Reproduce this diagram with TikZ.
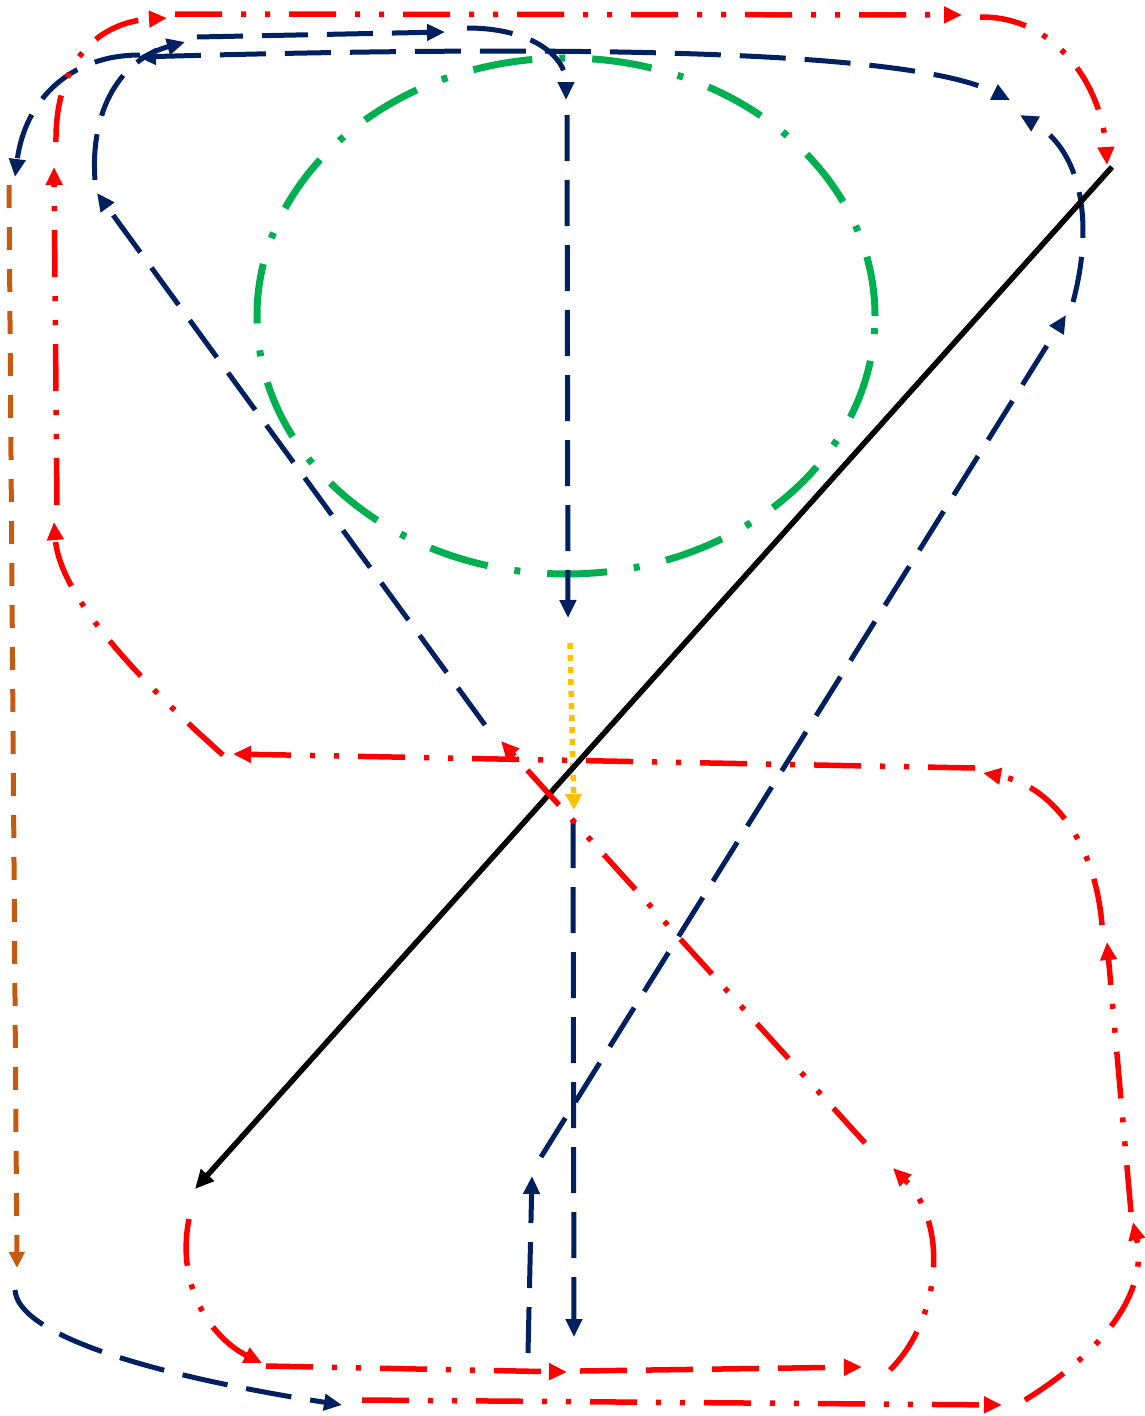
\documentclass[tikz,border=0pt]{standalone}
\usetikzlibrary{arrows.meta,shapes.geometric}
\definecolor{navy}{HTML}{002060}
\definecolor{myred}{HTML}{FF0000}
\definecolor{mygreen}{HTML}{00B050}
\definecolor{myorange}{HTML}{C55A11}
\definecolor{myyellow}{HTML}{FFC000}
\tikzset{
  tipn/.tip={Triangle[length=18pt,width=16pt]},
  navyline/.style={draw=navy, line width=5pt, dash pattern=on 46pt off 19pt, -tipn},
  navyboth/.style={draw=navy, line width=5pt, dash pattern=on 46pt off 19pt, tipn-tipn},
  redline/.style={draw=myred, line width=5.5pt, dash pattern=on 47pt off 19pt on 5pt off 19pt on 5pt off 19pt, -tipn},
  reddash/.style={draw=myred, line width=5.5pt, dash pattern=on 47pt off 19pt, -tipn},
  blackline/.style={draw=black, line width=5.5pt, -{Triangle[length=19pt,width=17pt]}},
  orangeline/.style={draw=myorange, line width=5pt, dash pattern=on 23pt off 19pt, -{Triangle[length=16pt,width=15pt]}},
  yellowline/.style={draw=myyellow, line width=5.5pt, dash pattern=on 6pt off 6pt, -{Triangle[length=16pt,width=16pt]}},
  greenring/.style={ellipse, draw=mygreen, line width=7pt, dash pattern=on 60pt off 27pt on 6pt off 27pt, inner sep=0pt},
}
\begin{document}
\begin{tikzpicture}[x=1pt,y=-1pt]
\useasboundingbox[fill=white] (0,0) rectangle (1144,1416);
% green ring
\node[greenring, minimum width=618pt, minimum height=516pt] (ring) at (566,316) {};
% endpoints
\coordinate (n8s) at (485,725);   \coordinate (n8e) at (97,193);
\coordinate (n1s) at (95,180);    \coordinate (n1e) at (185,42);
\coordinate (n2s) at (197,37);    \coordinate (n2e) at (445,32);
\coordinate (n3s) at (467,28);    \coordinate (n3e) at (566,100);
\coordinate (n4s) at (567,115);   \coordinate (n4e) at (568,618);
\coordinate (n5a) at (138,57);    \coordinate (n5b) at (1010,100);
\coordinate (n6s) at (1073,302);  \coordinate (n6e) at (1020,115);
\coordinate (n7s) at (541,1157);  \coordinate (n7e) at (1066,315);
\coordinate (n9s) at (140,55);    \coordinate (n9e) at (15,177);
\coordinate (n10s) at (573,822);  \coordinate (n10e) at (574,1337);
\coordinate (n11s) at (528,1353); \coordinate (n11e) at (532,1176);
\coordinate (n12s) at (15,1290);  \coordinate (n12e) at (342,1405);
\coordinate (os) at (9,185);      \coordinate (oe) at (17,1268);
\coordinate (ys) at (570,643);    \coordinate (ye) at (574,810);
\coordinate (bs) at (1112,167);   \coordinate (be) at (195,1189);
\coordinate (r1s) at (975,768);   \coordinate (r1e) at (233,754);
\coordinate (r2s) at (223,755);   \coordinate (r2e) at (54,522);
\coordinate (r3s) at (57,505);    \coordinate (r3e) at (54,167);
\coordinate (r4s) at (56,142);    \coordinate (r4e) at (167,18);
\coordinate (r5s) at (175,14);    \coordinate (r5e) at (962,15);
\coordinate (r6s) at (980,17);    \coordinate (r6e) at (1107,165);
\coordinate (r7s) at (1102,925);  \coordinate (r7e) at (983,773);
\coordinate (r8s) at (1131,1212); \coordinate (r8e) at (1107,942);
\coordinate (r9s) at (1025,1400); \coordinate (r9e) at (1133,1222);
\coordinate (r10s) at (362,1400); \coordinate (r10e) at (1002,1405);
\coordinate (r11s) at (266,1366); \coordinate (r11e) at (567,1372);
\coordinate (r15s) at (580,1371); \coordinate (r15e) at (862,1367);
\coordinate (r12s) at (189,1219); \coordinate (r12e) at (262,1363);
\coordinate (r13s) at (890,1370); \coordinate (r13e) at (893,1168);
\coordinate (r14s) at (865,1143); \coordinate (r14e) at (501,741);
% navy connectors
\draw[navyline] (n8s) -- (n8e);
\draw[navyline] (n1s) .. controls (90,110) and (120,60) .. (n1e);
\draw[navyline] (n2s) -- (n2e);
\draw[navyline] (n3s) .. controls (530,28) and (566,55) .. (n3e);
\draw[navyline] (n4s) -- (n4e);
\draw[navyboth] (n5a) .. controls (500,47) and (900,45) .. (n5b);
\draw[navyline] (n6s) .. controls (1095,220) and (1080,150) .. (n6e);
\draw[navyline] (n7s) -- (n7e);
\draw[navyline] (n9s) .. controls (70,55) and (25,100) .. (n9e);
\draw[navyline] (n10s) -- (n10e);
\draw[navyline] (n11s) -- (n11e);
\draw[navyline] (n12s) .. controls (18,1335) and (150,1375) .. (n12e);
% orange, yellow, black
\draw[orangeline] (os) -- (oe);
\draw[yellowline] (ys) -- (ye);
\draw[blackline] (bs) -- (be);
% red connectors
\draw[redline] (r1s) -- (r1e);
\draw[redline] (r2s) .. controls (150,690) and (60,600) .. (r2e);
\draw[redline] (r3s) -- (r3e);
\draw[redline] (r4s) .. controls (55,60) and (100,22) .. (r4e);
\draw[redline] (r5s) -- (r5e);
\draw[redline] (r6s) .. controls (1055,16) and (1102,85) .. (r6e);
\draw[redline] (r7s) .. controls (1095,840) and (1050,785) .. (r7e);
\draw[redline] (r8s) -- (r8e);
\draw[redline] (r9s) .. controls (1090,1360) and (1150,1300) .. (r9e);
\draw[redline] (r10s) -- (r10e);
\draw[redline] (r11s) -- (r11e);
\draw[reddash] (r15s) -- (r15e);
\draw[redline] (r12s) .. controls (175,1290) and (215,1340) .. (r12e);
\draw[redline] (r13s) .. controls (940,1320) and (950,1225) .. (r13e);
\draw[redline] (r14s) -- (r14e);
\end{tikzpicture}
\end{document}
